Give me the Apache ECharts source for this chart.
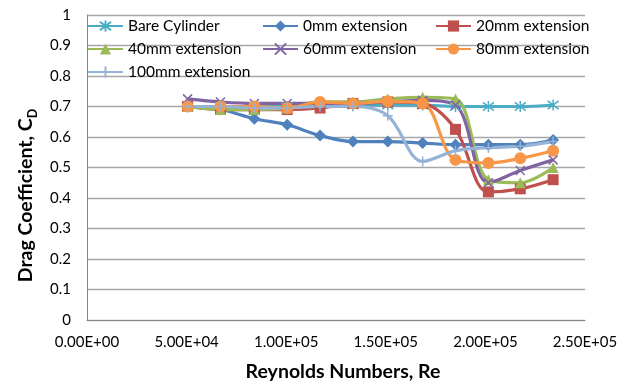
<!DOCTYPE html>
<html>
<head>
<meta charset="utf-8">
<script src="https://cdn.jsdelivr.net/npm/echarts@6/dist/echarts.min.js"></script>
<style>html,body{margin:0;padding:0;background:#fff}#c{width:622px;height:387px}</style>
</head>
<body>
<div id="c"></div>
<script>
// Reynolds numbers (x)
var re = [50500, 67000, 84000, 100500, 117000, 133500, 151000, 168500, 185000, 201500, 217500, 234000];
// Drag coefficient series
var bareCylinder = [0.70, 0.70, 0.70, 0.70, 0.705, 0.705, 0.705, 0.705, 0.70, 0.70, 0.70, 0.705];
var ext0 = [0.70, 0.69, 0.66, 0.64, 0.605, 0.585, 0.585, 0.58, 0.575, 0.575, 0.575, 0.59];
var ext20 = [0.70, 0.69, 0.69, 0.69, 0.695, 0.71, 0.715, 0.71, 0.625, 0.42, 0.43, 0.46];
var ext40 = [0.70, 0.69, 0.69, 0.695, 0.715, 0.715, 0.725, 0.73, 0.725, 0.46, 0.45, 0.50];
var ext60 = [0.725, 0.715, 0.71, 0.71, 0.71, 0.71, 0.715, 0.72, 0.705, 0.45, 0.49, 0.525];
var ext80 = [0.70, 0.70, 0.70, 0.695, 0.715, 0.71, 0.717, 0.71, 0.525, 0.515, 0.53, 0.555];
var ext100 = [0.70, 0.70, 0.695, 0.695, 0.70, 0.70, 0.67, 0.52, 0.555, 0.565, 0.57, 0.585];
var seriesNames = ['Bare Cylinder', '0mm extension', '20mm extension', '40mm extension', '60mm extension', '80mm extension', '100mm extension'];
var xTickMax = 250000;

function pair(ys) { return re.map(function (x, i) { return [x, ys[i]]; }); }
function sci(v) {
  var s = Number(v).toExponential(2).split('e');
  var e = parseInt(s[1], 10);
  var sign = e < 0 ? '-' : '+';
  var a = Math.abs(e);
  return s[0] + 'E' + sign + (a < 10 ? '0' + a : '' + a);
}
var FONT = 'Lato';
var asterisk = 'path://M5,0L5,10M1.2,1.2L8.8,8.8M1.2,8.8L8.8,1.2';
var xMark = 'path://M0,0L10,10M0,10L10,0';
var plusMark = 'path://M5,0L5,10M0,5L10,5';

function mk(name, data, color, symbol, size, stroke) {
  return {
    name: name, type: 'line', data: pair(data), smooth: 0.35,
    symbol: symbol, symbolSize: size,
    lineStyle: { color: color, width: 3.2 },
    itemStyle: stroke ? { color: 'rgba(0,0,0,0)', borderColor: color, borderWidth: 1.5 } : { color: color, borderWidth: 0 },
    emphasis: { disabled: true }
  };
}

var chart = echarts.init(document.getElementById('c'), null, { renderer: 'canvas' });
var legendText = { fontFamily: FONT, fontSize: 15.5, color: '#000', lineHeight: 14 };
var legendCommon = { orient: 'vertical', padding: 0, itemWidth: 35, itemHeight: 14, itemGap: 7, top: 18, textStyle: legendText, selectedMode: false };
chart.setOption({
  animation: false,
  backgroundColor: '#fff',
  grid: { left: 87, right: 37, top: 15, bottom: 66, containLabel: false },
  legend: [
    Object.assign({}, legendCommon, { left: 87, data: [seriesNames[0], seriesNames[3], seriesNames[6]] }),
    Object.assign({}, legendCommon, { left: 262, data: [seriesNames[1], seriesNames[4]] }),
    Object.assign({}, legendCommon, { left: 435, data: [seriesNames[2], seriesNames[5]] })
  ],
  xAxis: {
    type: 'value', min: 0, max: xTickMax, interval: 50000,
    name: 'Reynolds Numbers, Re', nameLocation: 'middle', nameGap: 42,
    nameTextStyle: { fontFamily: FONT, fontSize: 19.5, fontWeight: 'bold', color: '#000', padding: [0, 0, 0, 14] },
    axisLine: { show: true, onZero: false, lineStyle: { color: '#868686', width: 1 } },
    axisTick: { show: false },
    axisLabel: { fontFamily: FONT, fontSize: 15, color: '#000', margin: 15, formatter: sci },
    splitLine: { show: false }
  },
  yAxis: {
    type: 'value', min: 0, max: 1, interval: 0.1,
    name: '{a|Drag Coefficient, C}{s|D}', nameLocation: 'middle', nameGap: 50,
    nameTextStyle: {
      color: '#000', padding: [0, 56, 0, 0],
      rich: {
        a: { fontFamily: FONT, fontSize: 19.5, fontWeight: 'bold', color: '#000', lineHeight: 24, verticalAlign: 'bottom' },
        s: { fontFamily: FONT, fontSize: 12.5, fontWeight: 'bold', color: '#000', lineHeight: 18, verticalAlign: 'bottom', padding: [0, 0, -3, 0] }
      }
    },
    axisLine: { show: true, lineStyle: { color: '#868686', width: 1 } },
    axisTick: { show: false },
    axisLabel: { fontFamily: FONT, fontSize: 15, color: '#000', margin: 16 },
    splitLine: { show: true, lineStyle: { color: '#A6A6A6', width: 1.3 } }
  },
  series: [
    mk(seriesNames[0], bareCylinder, '#4BACC6', asterisk, 11, true),
    mk(seriesNames[1], ext0, '#4F81BD', 'diamond', 12, false),
    mk(seriesNames[2], ext20, '#C0504D', 'rect', 11, false),
    mk(seriesNames[3], ext40, '#9BBB59', 'triangle', 11, false),
    mk(seriesNames[4], ext60, '#8064A2', xMark, 9, true),
    mk(seriesNames[5], ext80, '#F79646', 'circle', 12, false),
    mk(seriesNames[6], ext100, '#95B3D7', plusMark, 10, true)
  ]
});
</script>
</body>
</html>
